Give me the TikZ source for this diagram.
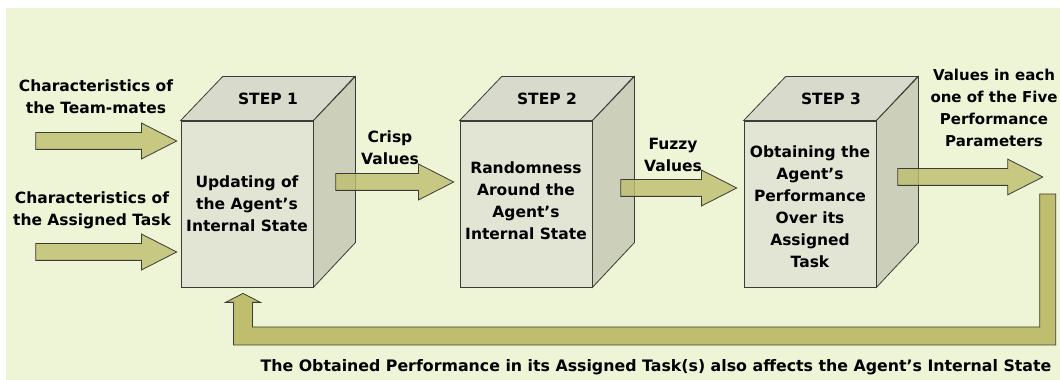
\documentclass[tikz,border=0pt]{standalone}
\usepackage{fontspec}
\setmainfont{DejaVu Sans}
\usetikzlibrary{shapes.arrows,calc,positioning}
\definecolor{bgcream}{RGB}{238,244,214}
\definecolor{frontface}{RGB}{226,229,212}
\definecolor{topface}{RGB}{216,219,203}
\definecolor{sideface}{RGB}{204,207,186}
\definecolor{khaki}{RGB}{190,190,110}
\definecolor{edgegray}{RGB}{60,60,55}
\begin{document}
\begin{tikzpicture}[x=1pt, y=1pt, line width=0.8pt,
    every node/.append style={font=\fontsize{15.5}{22}\selectfont\bfseries, align=center, text=black},
    front/.style={draw=edgegray, fill=frontface, minimum width=132pt, minimum height=166pt, inner sep=0pt},
    blockarrow/.style={single arrow, draw=edgegray, fill=khaki, fill opacity=0.8, inner sep=8pt,
      single arrow head extend=9.5pt, single arrow tip angle=54}]
    \tikzstyle{label} = [inner sep=0pt]
    \useasboundingbox (0,0) rectangle (1060,380);
    \fill[bgcream] (6,0) rectangle (1060,372);
    \node (step1) [front] at (247,176) {Updating of\\the Agent's\\Internal State};
    \node (step2) [front] at (526,176) {};
    \node (step3) [front] at (810,176) {};
    \foreach \s/\n in {step1/1, step2/2, step3/3} {
      \draw[edgegray, fill=topface] (\s.north west) -- ++(42,44) -- ++(132,0) -- (\s.north east) -- cycle;
      \draw[edgegray, fill=sideface] (\s.north east) -- ++(42,44) -- ++(0,-166) -- (\s.south east) -- cycle;
      \node [label] at ($(\s.north)+(21,22)$) {STEP \n};
    }
    \node [label] at ($(step2)+(0,3)$) {Randomness\\Around the\\Agent's\\Internal State};
    \node [label] at ($(step3)+(0,-3)$) {Obtaining the\\Agent's\\Performance\\Over its\\Assigned\\Task};
    \node (inTeam) [blockarrow, minimum height=141pt, anchor=tip] at ($(step1.west)+(-3,63)$) {};
    \node (inTask) [blockarrow, minimum height=141pt, anchor=tip] at ($(step1.west)+(-3,-48)$) {};
    \node (crisp) [blockarrow, minimum height=118pt, anchor=tip] at ($(step2.west)+(-5,22)$) {};
    \node (fuzzy) [blockarrow, minimum height=116pt, anchor=tip] at ($(step3.west)+(-6,16)$) {};
    \node (perf) [blockarrow, minimum height=145pt, anchor=tail] at ($(step3.east)+(21,27)$) {};
    \node [label] at (96,283) {Characteristics of\\the Team-mates};
    \node [label] at (92,170) {Characteristics of\\the Assigned Task};
    \node [label] at (390,232) {Crisp\\Values};
    \node [label] at (673,225) {Fuzzy\\Values};
    \node [label, font=\fontsize{15}{22}\selectfont\bfseries] at (994,272) {Values in each\\one of the Five\\Performance\\Parameters};
    \coordinate (fbtop) at ($(perf.tip)+(4,-17)$);
    \coordinate (fbtip) at ($(step1.south)+(-4,-6)$);
    \path let \p1=(fbtop), \p2=(fbtip) in
      [draw=edgegray, fill=khaki]
      (\x1-8pt,\y1) -- (\x1+8pt,\y1) -- (\x1+8pt,35) -- (\x2-9.5pt,35) -- (\x2-9.5pt,\y2-9pt)
      -- (\x2-17.5pt,\y2-9pt) -- (\x2,\y2) -- (\x2+17.5pt,\y2-9pt) -- (\x2+9.5pt,\y2-9pt)
      -- (\x2+9.5pt,53) -- (\x1-8pt,53) -- cycle;
    \node [label, font=\fontsize{15.8}{22}\selectfont\bfseries] at (656,13) {The Obtained Performance in its Assigned Task(s) also affects the Agent's Internal State};
\end{tikzpicture}
\end{document}
